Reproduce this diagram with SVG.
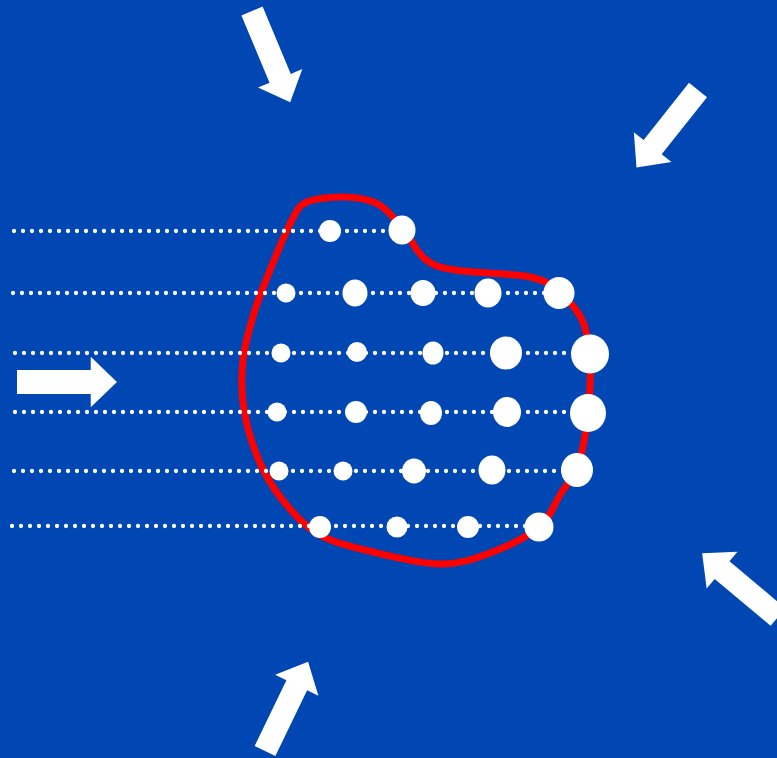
<svg xmlns="http://www.w3.org/2000/svg" width="777" height="758" viewBox="0 0 777 758">
<style>
.dots{stroke:#fff;stroke-width:4.3;stroke-linecap:round;stroke-dasharray:0 9;fill:none}
.p{fill:#fff}
.blob{fill:none;stroke:#ff0000;stroke-width:7;stroke-linejoin:round}
</style>
<defs>
<polygon id="arr" points="0,-11.5 73,-11.5 73,-24 99,0 73,24 73,11.5 0,11.5" fill="#fff"/>
</defs>
<rect width="777" height="758" fill="#0047b3"/>
<g id="boundary">
<path class="blob" d="M307,202 C315.8,198.2 333.2,196.7 345,197 C356.8,197.3 368.3,198.7 378,204 C387.7,209.3 395.2,219.8 403,229 C410.8,238.2 416.3,252.2 425,259 C433.7,265.8 437.5,267 455,270 C472.5,273 512.5,273.2 530,277 C547.5,280.8 551.2,285.5 560,293 C568.8,300.5 578,310 583,322 C588,334 589.2,349.8 590,365 C590.8,380.2 589.8,396.8 588,413 C586.2,429.2 583.7,448.3 579,462 C574.3,475.7 566.7,484.2 560,495 C553.3,505.8 550.7,517.3 539,527 C527.3,536.7 506.5,546.8 490,553 C473.5,559.2 459.5,564.2 440,564 C420.5,563.8 393,556.8 373,552 C353,547.2 334.7,543.2 320,535 C305.3,526.8 295,515 285,503 C275,491 266.8,478.5 260,463 C253.2,447.5 246.8,427.2 244,410 C241.2,392.8 241.2,376.7 243,360 C244.8,343.3 249.7,327 255,310 C260.3,293 268.8,273 275,258 C281.2,243 286.7,229.3 292,220 C297.3,210.7 298.2,205.8 307,202 Z"/>
</g>
<g id="connectors">
<line class="dots" x1="14" y1="231" x2="400" y2="231"/>
<line class="dots" x1="13" y1="293" x2="558" y2="293"/>
<line class="dots" x1="15" y1="353" x2="590" y2="353"/>
<line class="dots" x1="15" y1="412" x2="588" y2="412"/>
<line class="dots" x1="14" y1="471" x2="576" y2="471"/>
<line class="dots" x1="12" y1="526" x2="539" y2="526"/>
</g>
<g id="row1"><circle class="p" cx="330" cy="231" r="11"/><ellipse class="p" cx="402" cy="230" rx="13.5" ry="14.5"/></g>
<g id="row2"><circle class="p" cx="286" cy="293" r="9.5"/><ellipse class="p" cx="355" cy="293" rx="12.5" ry="13.5"/><ellipse class="p" cx="423" cy="293" rx="12.5" ry="13"/><ellipse class="p" cx="488" cy="293" rx="13.5" ry="14.5"/><ellipse class="p" cx="559" cy="293" rx="15.5" ry="16"/></g>
<g id="row3"><circle class="p" cx="281" cy="353" r="9.5"/><circle class="p" cx="357" cy="352" r="10"/><ellipse class="p" cx="433" cy="353" rx="10.5" ry="11.5"/><ellipse class="p" cx="506" cy="353" rx="16" ry="16.5"/><ellipse class="p" cx="590" cy="354" rx="19" ry="19.5"/></g>
<g id="row4"><circle class="p" cx="277" cy="412" r="9.5"/><circle class="p" cx="356" cy="412" r="11"/><ellipse class="p" cx="431" cy="413" rx="11" ry="12"/><ellipse class="p" cx="507" cy="412" rx="14" ry="15"/><ellipse class="p" cx="588" cy="413" rx="18" ry="19"/></g>
<g id="row5"><circle class="p" cx="279" cy="471" r="9.5"/><circle class="p" cx="343" cy="471" r="9.5"/><ellipse class="p" cx="414" cy="471" rx="12" ry="12.5"/><ellipse class="p" cx="492" cy="470" rx="13.5" ry="14.5"/><ellipse class="p" cx="577" cy="470" rx="16" ry="17"/></g>
<g id="row6"><circle class="p" cx="320" cy="527" r="11"/><circle class="p" cx="397" cy="527" r="10.5"/><circle class="p" cx="468" cy="527" r="11"/><ellipse class="p" cx="539" cy="527" rx="14.5" ry="14.5"/></g>
<g id="arrow-top"><use href="#arr" transform="translate(252,11) rotate(67.3)"/></g>
<g id="arrow-topright"><use href="#arr" transform="translate(698,90) rotate(128.4)"/></g>
<g id="arrow-left"><use href="#arr" transform="translate(17,382) scale(1.01,1.05)"/></g>
<g id="arrow-bottomright"><use href="#arr" transform="translate(778,617) rotate(220)"/></g>
<g id="arrow-bottom"><use href="#arr" transform="translate(265,751) rotate(-64.2)"/></g>
</svg>
